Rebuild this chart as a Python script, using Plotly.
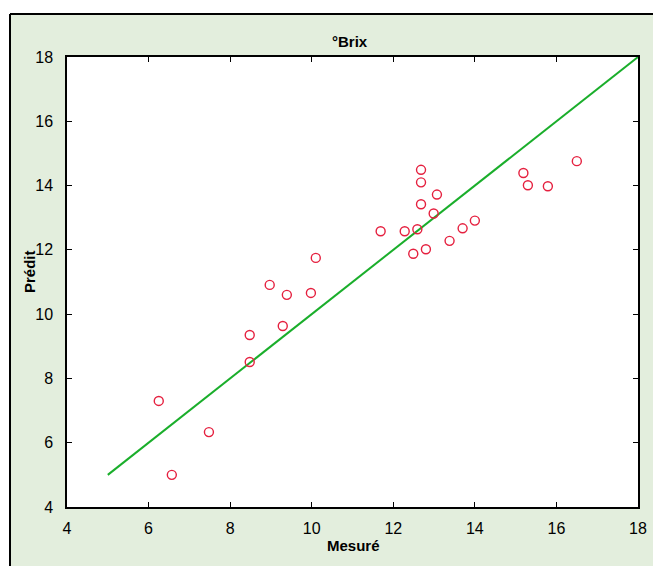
import plotly.graph_objects as go

mesure = [6.25, 6.57, 7.48, 8.48, 8.48, 9.29, 8.97, 9.39, 9.98, 10.10,
          11.69, 12.28, 12.59, 12.68, 12.68, 12.68, 13.07, 12.99, 12.49, 12.80,
          13.38, 13.70, 14.00, 15.19, 15.30, 15.79, 16.50]
predit = [7.30, 5.00, 6.33, 8.51, 9.35, 9.63, 10.91, 10.60, 10.66, 11.75,
          12.58, 12.58, 12.64, 14.49, 14.10, 13.42, 13.72, 13.13, 11.88, 12.02,
          12.28, 12.67, 12.91, 14.39, 14.01, 13.98, 14.76]
line_x = [5, 18]
line_y = [5, 18]
ticks = [4, 6, 8, 10, 12, 14, 16, 18]

FONT = "Liberation Sans, Arial, sans-serif"

fig = go.Figure()
fig.add_trace(go.Scatter(x=line_x, y=line_y, mode="lines",
                         line=dict(color="#1aae2b", width=2), showlegend=False,
                         hoverinfo="skip"))
fig.add_trace(go.Scatter(x=mesure, y=predit, mode="markers",
                         marker=dict(symbol="circle-open", size=9, color="#e5203f",
                                     line=dict(width=1.4, color="#e5203f")),
                         showlegend=False))

axis_common = dict(
    range=[4, 18], tickvals=ticks, ticktext=[str(t) for t in ticks],
    ticks="inside", ticklen=5, tickwidth=1, tickcolor="black",
    showline=True, linecolor="black", linewidth=1.5, mirror="ticks",
    showgrid=False, zeroline=False,
    tickfont=dict(family=FONT, size=16, color="black"),
)
fig.update_xaxes(**axis_common, ticklabelstandoff=6)
fig.update_yaxes(**axis_common, ticklabelstandoff=9)

OFF = 8  # page body margin offset
W, H = 661, 566
L, R, T, B = 67 - OFF, 638 - OFF, 57 - OFF, 507 - OFF
pw, ph = R - L, B - T

def px(x):
    return (x - OFF - L) / pw

def py(y):
    return (B - (y - OFF)) / ph

shapes = [
    dict(type="rect", xref="paper", yref="paper", x0=px(-20), x1=px(10), y0=py(600), y1=py(-20),
         fillcolor="white", line=dict(width=0), layer="above"),
    dict(type="rect", xref="paper", yref="paper", x0=px(-20), x1=px(700), y0=py(14), y1=py(-20),
         fillcolor="white", line=dict(width=0), layer="above"),
    dict(type="line", xref="paper", yref="paper", x0=px(10), x1=px(700), y0=py(14), y1=py(14),
         line=dict(color="black", width=2), layer="above"),
    dict(type="line", xref="paper", yref="paper", x0=px(10), x1=px(10), y0=py(14), y1=py(600),
         line=dict(color="black", width=2), layer="above"),
]

annotations = [
    dict(text="<b>°Brix</b>", xref="paper", yref="paper", x=px(350), y=py(42),
         showarrow=False, xanchor="center", yanchor="middle",
         font=dict(family=FONT, size=15, color="black")),
    dict(text="<b>Mesuré</b>", xref="paper", yref="paper", x=px(353), y=py(545),
         showarrow=False, xanchor="center", yanchor="middle",
         font=dict(family=FONT, size=15, color="black")),
    dict(text="<b>Prédit</b>", xref="paper", yref="paper", x=px(29), y=py(272),
         showarrow=False, xanchor="center", yanchor="middle", textangle=-90,
         font=dict(family=FONT, size=15, color="black")),
]

fig.update_layout(
    width=W, height=H,
    margin=dict(l=L, r=W - R, t=T, b=H - B, pad=0),
    paper_bgcolor="#e3eedd", plot_bgcolor="white",
    shapes=shapes, annotations=annotations,
    font=dict(family=FONT, color="black"),
)

fig.write_html("out.html")
